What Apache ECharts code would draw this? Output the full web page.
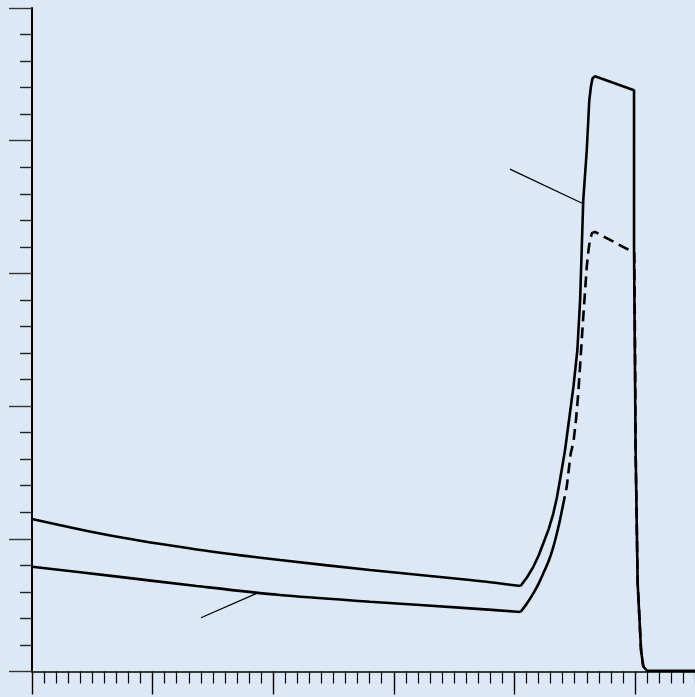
<!DOCTYPE html>
<html>
<head>
<meta charset="utf-8">
<script src="https://cdn.jsdelivr.net/npm/echarts@6/dist/echarts.min.js"></script>
<style>
html,body{margin:0;padding:0;background:#dce8f6;}
#c{width:695px;height:697px;}
</style>
</head>
<body>
<div id="c"></div>
<script>
// Upper curve (solid): slowly falling part, then peak
var upperFlatX = [0, 0.672, 1.366, 2.056, 2.803, 3.632, 4.051];
var upperFlatY = [1.15, 1.021, 0.920, 0.840, 0.765, 0.689, 0.644];
var upperPeakX = [4.051, 4.105, 4.157, 4.200, 4.240, 4.285, 4.323, 4.352, 4.378, 4.420, 4.453, 4.490, 4.522, 4.545, 4.558, 4.571, 4.600, 4.621, 4.635, 4.648, 4.668, 4.992, 4.992, 5.005, 5.022, 5.050, 5.069, 5.100, 5.5];
var upperPeakY = [0.644, 0.710, 0.789, 0.872, 0.966, 1.075, 1.192, 1.310, 1.443, 1.669, 1.895, 2.150, 2.422, 2.800, 3.175, 3.552, 3.928, 4.305, 4.410, 4.470, 4.486, 4.380, 3.175, 1.669, 0.667, 0.162, 0.036, 0.006, 0.005];
// Lower curve: slowly falling part (solid)
var lowerFlatX = [0, 0.674, 1.366, 2.056, 2.803, 3.632, 4.051];
var lowerFlatY = [0.79, 0.719, 0.644, 0.576, 0.526, 0.476, 0.448];
// Lower curve: rise, solid part
var lowerRiseX = [4.051, 4.105, 4.157, 4.200, 4.240, 4.285, 4.323, 4.352, 4.378, 4.400];
var lowerRiseY = [0.448, 0.515, 0.589, 0.660, 0.740, 0.835, 0.940, 1.040, 1.141, 1.24];
// Lower curve: dashed part
var lowerDashX = [4.400, 4.434, 4.467, 4.490, 4.511, 4.530, 4.544, 4.571, 4.600, 4.615, 4.628, 4.645, 4.668, 4.994, 5.000, 5.005, 5.022, 5.050, 5.069];
var lowerDashY = [1.24, 1.392, 1.644, 1.730, 1.900, 2.100, 2.296, 2.673, 3.049, 3.180, 3.260, 3.305, 3.313, 3.155, 2.500, 1.669, 0.667, 0.162, 0.036];
// Leader lines
var leader1X = [3.963, 4.571];
var leader1Y = [3.786, 3.525];
var leader2X = [1.401, 1.863];
var leader2Y = [0.405, 0.589];

function pairs(xs, ys){ return xs.map(function(x,i){ return [x, ys[i]]; }); }

var chart = echarts.init(document.getElementById('c'), null, {renderer:'canvas'});
var thick = {color:'#000', width:2.6};
chart.setOption({
  backgroundColor: '#dce8f6',
  animation: false,
  grid: {left: 32, top: 8, height: 663.5, width: 723.6, containLabel: false, outerBoundsMode: 'none'},
  xAxis: {
    type: 'value', min: 0, max: 6, interval: 1,
    axisLine: {show:true, onZero:false, lineStyle:{color:'#000', width:1.6}},
    axisTick: {show:true, length:23, lineStyle:{color:'#000', width:1.4}},
    minorTick: {show:true, splitNumber:10, length:12, lineStyle:{color:'#000', width:1.2}},
    axisLabel: {show:false},
    splitLine: {show:false}
  },
  yAxis: {
    type: 'value', min: 0, max: 5, interval: 1,
    axisLine: {show:true, onZero:false, lineStyle:{color:'#000', width:2}},
    axisTick: {show:true, length:23, lineStyle:{color:'#333', width:1.4}},
    minorTick: {show:true, splitNumber:5, length:12, lineStyle:{color:'#222', width:1.4}},
    axisLabel: {show:false},
    splitLine: {show:false}
  },
  series: [
    {type:'line', data: pairs(upperFlatX, upperFlatY), symbol:'none', smooth:0.3, lineStyle:thick},
    {type:'line', data: pairs(upperPeakX, upperPeakY), symbol:'none', lineStyle:thick},
    {type:'line', data: pairs(lowerFlatX, lowerFlatY), symbol:'none', smooth:0.3, lineStyle:thick},
    {type:'line', data: pairs(lowerRiseX, lowerRiseY), symbol:'none', smooth:0.2, lineStyle:thick},
    {type:'line', data: pairs(lowerDashX, lowerDashY), symbol:'none', lineStyle:{color:'#000', width:2.6, type:[11,6]}},
    {type:'line', data: pairs(leader1X, leader1Y), symbol:'none', lineStyle:{color:'#000', width:1.2}},
    {type:'line', data: pairs(leader2X, leader2Y), symbol:'none', lineStyle:{color:'#000', width:1.2}}
  ]
});
</script>
</body>
</html>
